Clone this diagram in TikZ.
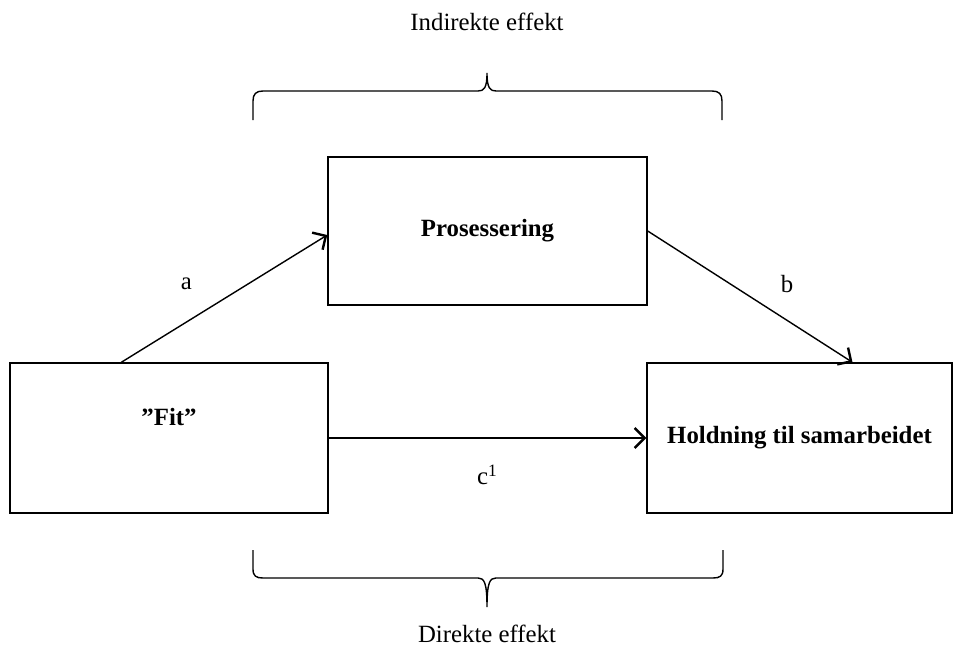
\documentclass[tikz,border=0pt]{standalone}
\usepackage{fontspec}
\setmainfont{Liberation Serif}
\usetikzlibrary{arrows.meta}

\begin{document}
\begin{tikzpicture}[x=0.5pt,y=-0.5pt,line width=0.7pt,
    every node/.style={font=\fontsize{12.4}{15}\selectfont},
    box/.style={draw,rectangle,inner sep=0pt,font=\fontsize{12.4}{15}\selectfont\bfseries},
    effarrow/.style={-{Straight Barb[length=5pt,width=10pt,line width=1.2pt]}},
    lbl/.style={inner sep=0pt}]
  \useasboundingbox (0,0) rectangle (953,649);

  \node[box,minimum width=159.5pt,minimum height=74pt] (P) at (487.5,231) {Prosessering};
  \node[box,minimum width=159pt,minimum height=75pt,
        label={[font=\fontsize{12.4}{15}\selectfont\bfseries,yshift=10.5pt]center:”Fit”}] (F) at (169,438) {};
  \node[box,minimum width=152.5pt,minimum height=75pt] (H) at (799.5,438) {Holdning til samarbeidet};

  \draw[effarrow] ([xshift=56pt]F.north west) -- ([yshift=-2pt]P.west)
        node[lbl,midway,xshift=-19pt,yshift=7.5pt] (a) {a};
  \draw[effarrow] (P.east) -- ([xshift=26.5pt]H.north)
        node[lbl,midway,xshift=18.5pt,yshift=6.5pt] (b) {b};
  \draw[effarrow] (F.east) -- (H.west)
        node[lbl,midway,yshift=-18.5pt] (c) {c\textsuperscript{1}};

  % klammer
  \draw (253,120) -- (253,101) .. controls (253,94) and (256,91) .. (263,91)
        -- (478,91) .. controls (484,91) and (487,88) .. (487,73)
        .. controls (487,88) and (490,91) .. (496,91)
        -- (712,91) .. controls (719,91) and (722,94) .. (722,101) -- (722,120);
  \draw (253,550) -- (253,569) .. controls (253,576) and (256,578) .. (263,578)
        -- (478,578) .. controls (484,578) and (487,582) .. (487,607)
        .. controls (487,582) and (490,578) .. (496,578)
        -- (713,578) .. controls (720,578) and (723,576) .. (723,569) -- (723,550);

  \node (ind) at (487,22) {Indirekte effekt};
  \node (dir) at (487,634) {Direkte effekt};

\end{tikzpicture}
\end{document}
